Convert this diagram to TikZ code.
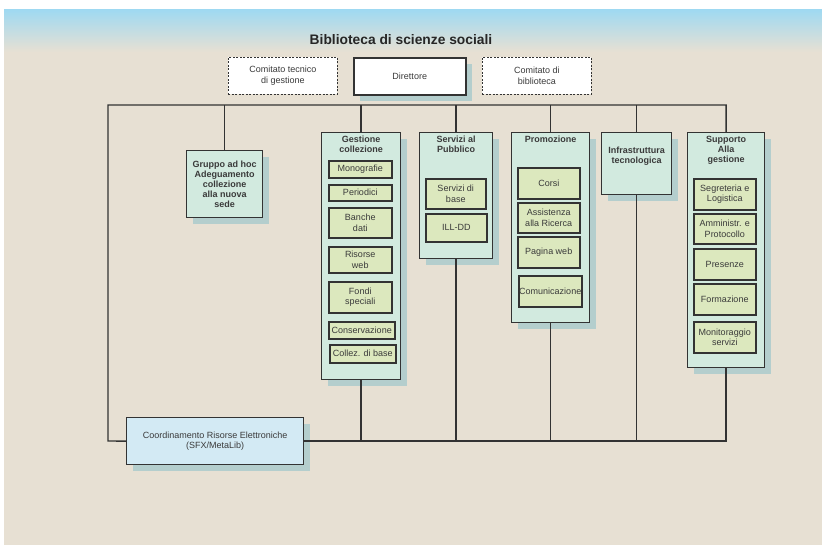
\documentclass[tikz,border=0pt]{standalone}
\usepackage{fontspec}
\setmainfont{Liberation Sans}
\usetikzlibrary{shadows}
\definecolor{cFondo}{HTML}{E7E0D3}
\definecolor{cCielo}{HTML}{9ED9F2}
\definecolor{cArea}{HTML}{D2EADF}
\definecolor{cVoce}{HTML}{DCE8BE}
\definecolor{cCoord}{HTML}{D3EAF4}
\definecolor{cOmbra}{HTML}{A3C8CB}
\definecolor{cLinea}{HTML}{333333}
\definecolor{cTesto}{HTML}{3A3A3A}
\begin{document}
\begin{tikzpicture}[x=1pt,y=-1pt,font=\fontsize{9}{10.5}\selectfont,text=cTesto,
  conn/.style={draw=cLinea,line width=1.4pt},
  ombra/.style={drop shadow={fill=cOmbra,opacity=.75,shadow xshift=6pt,shadow yshift=-6pt}},
  settore/.style={draw=cLinea,line width=1.2pt,fill=cArea,ombra,anchor=north west,inner sep=0pt,align=center},
  voce/.style={draw=cLinea,line width=1.5pt,fill=cVoce,anchor=north west,inner sep=0pt,align=center},
  comitato/.style={draw=cLinea,line width=.7pt,dash pattern=on 2pt off 1.5pt,fill=white,anchor=north west,inner sep=0pt,align=center,minimum width=109,minimum height=37},
  testata/.style={anchor=north,font=\bfseries\fontsize{9}{10}\selectfont,align=center,inner sep=0pt}]
\useasboundingbox (0,0) rectangle (822,546);
\shade[top color=cCielo,bottom color=cFondo] (4,9) rectangle (822,52);
\fill[cFondo] (4,52) rectangle (822,545);
\node (titolo) at (401,40) {\fontsize{13.8}{16}\selectfont\bfseries\color{black!85}Biblioteca di scienze sociali};
\node[comitato] (ctg) at (228,57) {Comitato tecnico\\di gestione};
\node[comitato,solid,line width=1.5pt,ombra,minimum width=112] (dir) at (353,57) {Direttore};
\node[comitato] (cdb) at (482,57) {Comitato di\\biblioteca};
\node[settore,minimum width=76,minimum height=67,font=\bfseries\fontsize{9}{10}\selectfont] (gruppo) at (186,150) {Gruppo ad hoc\\Adeguamento\\collezione\\alla nuova\\sede};
\node[settore,minimum width=79,minimum height=247] (gest) at (321,132) {};
\node[testata,yshift=-4pt] (gestT) at (gest.north) {Gestione\\collezione};
\node[settore,minimum width=73,minimum height=126] (serv) at (419,132) {};
\node[testata,yshift=-4pt] (servT) at (serv.north) {Servizi al\\Pubblico};
\node[settore,minimum width=78,minimum height=190] (prom) at (511,132) {};
\node[testata,yshift=-4pt] (promT) at (prom.north) {Promozione};
\node[settore,minimum width=70,minimum height=62] (infr) at (601,132) {};
\node[testata,yshift=-15pt] (infrT) at (infr.north) {Infrastruttura\\tecnologica};
\node[settore,minimum width=77,minimum height=235] (supp) at (687,132) {};
\node[testata,yshift=-4pt] (suppT) at (supp.north) {Supporto\\Alla\\gestione};
\node[voce,minimum width=63,minimum height=17] (mono) at (328,160) {Monografie};
\node[voce,minimum width=63,minimum height=16] (peri) at (328,184) {Periodici};
\node[voce,minimum width=63,minimum height=30] (banc) at (328,207) {Banche\\dati};
\node[voce,minimum width=63,minimum height=26] (riso) at (328,246) {Risorse\\web};
\node[voce,minimum width=63,minimum height=31] (fond) at (328,281) {Fondi\\speciali};
\node[voce,minimum width=66,minimum height=17] (cons) at (328,321) {Conservazione};
\node[voce,minimum width=66,minimum height=18] (coll) at (329,344) {Collez. di base};
\node[voce,minimum width=60,minimum height=30] (sdb) at (425,178) {Servizi di\\base};
\node[voce,minimum width=61,minimum height=28] (ill) at (425,213) {ILL-DD};
\node[voce,minimum width=62,minimum height=31] (cors) at (517,167) {Corsi};
\node[voce,minimum width=62,minimum height=30] (assi) at (517,202) {Assistenza\\alla Ricerca};
\node[voce,minimum width=62,minimum height=31] (pagi) at (517,236) {Pagina web};
\node[voce,minimum width=63,minimum height=31] (comu) at (518,275) {Comunicazione};
\node[voce,minimum width=62,minimum height=31] (segr) at (693,178) {Segreteria e\\Logistica};
\node[voce,minimum width=62,minimum height=30] (ammi) at (693,213) {Amministr. e\\Protocollo};
\node[voce,minimum width=62,minimum height=31] (pres) at (693,248) {Presenze};
\node[voce,minimum width=62,minimum height=31] (form) at (693,283) {Formazione};
\node[voce,minimum width=62,minimum height=31] (moni) at (693,321) {Monitoraggio\\servizi};
\node[settore,fill=cCoord,minimum width=177,minimum height=47] (coord) at (126,417) {Coordinamento Risorse Elettroniche\\(SFX/MetaLib)};
\coordinate (nw) at (108,105);
\coordinate (sw) at (108,441);
\draw[conn] (coord.west) -- (sw) -- (nw) -- (supp.north |- nw) -- (supp.north);
\draw[conn] (coord.east) -- (supp.south |- coord.east) -- (supp.south);
\foreach \b in {gruppo,gest,serv,prom,infr}
  \draw[conn] (\b.north) -- (\b.north |- nw);
\foreach \b in {gest,serv,prom,infr}
  \draw[conn] (\b.south) -- (\b.south |- coord.east);
\end{tikzpicture}
\end{document}
